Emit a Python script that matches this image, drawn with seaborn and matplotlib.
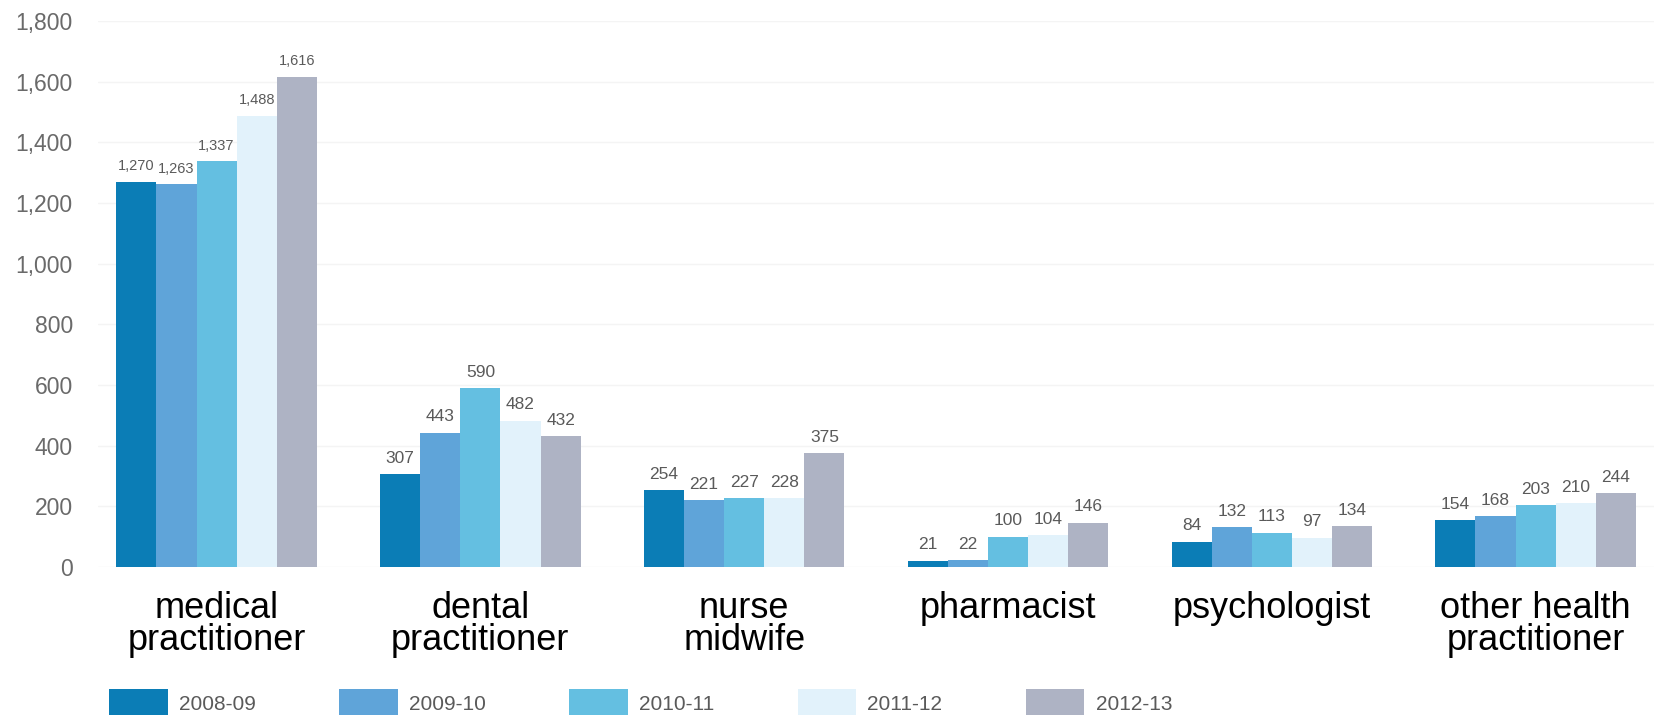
import matplotlib
matplotlib.use("Agg")
import matplotlib.pyplot as plt
import seaborn as sns
import pandas as pd

# Registrations by profession and financial year
categories = [
    "medical\npractitioner",
    "dental\npractitioner",
    "nurse\nmidwife",
    "pharmacist",
    "psychologist",
    "other health\npractitioner",
]
years = ["2008-09", "2009-10", "2010-11", "2011-12", "2012-13"]
values_2008_09 = [1270, 307, 254, 21, 84, 154]
values_2009_10 = [1263, 443, 221, 22, 132, 168]
values_2010_11 = [1337, 590, 227, 100, 113, 203]
values_2011_12 = [1488, 482, 228, 104, 97, 210]
values_2012_13 = [1616, 432, 375, 146, 134, 244]
y_ticks = [0, 200, 400, 600, 800, 1000, 1200, 1400, 1600, 1800]

series = [values_2008_09, values_2009_10, values_2010_11, values_2011_12, values_2012_13]
colors = ["#0b7db6", "#5fa4d9", "#64bfe1", "#e2f2fb", "#aeb3c4"]

rows = []
for year, vals in zip(years, series):
    for cat, v in zip(categories, vals):
        rows.append({"category": cat, "year": year, "value": v})
df = pd.DataFrame(rows)

sns.set_theme(style="white")
plt.rcParams["font.family"] = ["Liberation Sans", "DejaVu Sans"]

fig = plt.figure(figsize=(16.56, 7.15), dpi=100)
ax = fig.add_axes([0.0591, 0.2070, 0.9399, 0.7636])

sns.barplot(
    data=df, x="category", y="value", hue="year",
    order=categories, hue_order=years, palette=colors,
    width=0.76, saturation=1, linewidth=0, gap=0,
    errorbar=None, ax=ax,
)

ax.set_xlim(-0.45, 5.45)
ax.set_ylim(0, 1800)
ax.set_yticks(y_ticks)
ax.set_yticklabels([f"{t:,}" for t in y_ticks], fontsize=16.5, color="#6a6a6a")
ax.tick_params(axis="y", length=0, pad=18)
ax.tick_params(axis="x", length=0, pad=17)
for lbl in ax.get_xticklabels():
    lbl.set_fontsize(26)
    lbl.set_color("black")
    lbl.set_linespacing(0.9)
ax.set_xlabel("")
ax.set_ylabel("")
ax.yaxis.grid(True, color="#f4f4f4", linewidth=1)
ax.set_axisbelow(True)
for s in ax.spines.values():
    s.set_visible(False)

# faint separators between groups along the baseline
ax.set_xticks([0.5, 1.5, 2.5, 3.5, 4.5], minor=True)
ax.tick_params(axis="x", which="minor", length=4, width=1, color="#d8d8d8", direction="out")

# value labels above each bar
for cont in ax.containers:
    texts = ax.bar_label(cont, fmt="{:,.0f}", padding=6, fontsize=12.5, color="#5a5a5a")
    texts[0].set_fontsize(10.5)

# legend row along the bottom edge
handles, labels = ax.get_legend_handles_labels()
ax.get_legend().remove()
fig.legend(
    handles, labels, loc="center left", bbox_to_anchor=(0.066, 0.017),
    ncol=5, frameon=False, fontsize=15, labelcolor="#5a5a5a",
    handlelength=2.8, handleheight=1.7, handletextpad=0.55,
    columnspacing=4.0, borderpad=0, borderaxespad=0,
)

fig.savefig("out.png", dpi=100, facecolor="white")
